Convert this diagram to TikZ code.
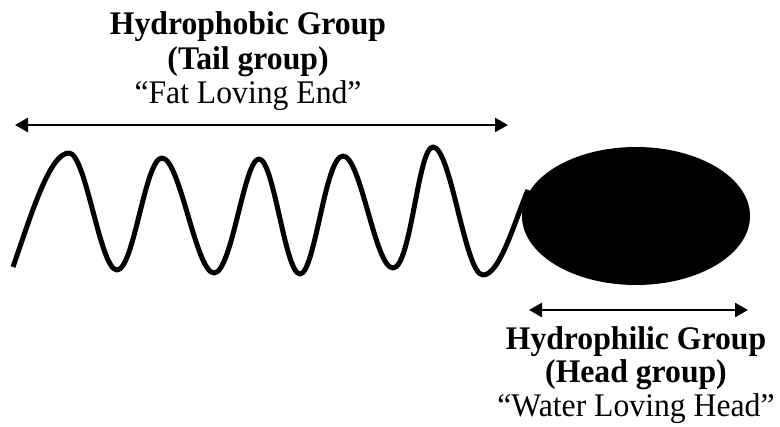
\documentclass[tikz,border=0pt]{standalone}
\usepackage{fontspec}
\setmainfont{Liberation Serif}
\usetikzlibrary{shapes.geometric,arrows.meta}
\newcommand{\squeezetxt}[1]{\scalebox{0.96}[1]{#1}}
\tikzset{
  lbl/.style={anchor=base, inner sep=0pt, font=\fontsize{33}{38}\selectfont},
  lblb/.style={lbl, font=\fontsize{33}{38}\selectfont\bfseries},
  dimarrow/.style={line width=2.5pt, {Triangle[length=13pt,width=14pt]}-{Triangle[length=13pt,width=14pt]}},
  wave/.style={line width=5pt, line cap=butt, line join=round},
  headshape/.style={ellipse, fill=black, draw=none, minimum width=228pt, minimum height=138pt, inner sep=0pt}
}
\begin{document}
\begin{tikzpicture}[x=1pt,y=-1pt]
\useasboundingbox (0,0) rectangle (780,427);
% tail labels
\node[lblb] (t1) at (248,35) {\squeezetxt{Hydrophobic Group}};
\node[lblb] (t2) at (248,70) {\squeezetxt{(Tail group)}};
\node[lbl]  (t3) at (248,104) {\squeezetxt{“Fat Loving End”}};
\coordinate (ta) at (15,125);
\coordinate (tb) at (508,125);
\draw[dimarrow] (ta) -- (tb);
% tail wave
\coordinate (w0) at (13,267);
\coordinate (p1) at (69,153);
\coordinate (v1) at (117,270);
\coordinate (p2) at (162,158);
\coordinate (v2) at (214,273);
\coordinate (p3) at (259,159);
\coordinate (v3) at (300,274);
\coordinate (p4) at (343,156);
\coordinate (v4) at (393,268);
\coordinate (p5) at (433,147);
\coordinate (v5) at (483,275);
\coordinate (w1) at (528,190);
\draw[wave] (w0) .. controls (32,212) and (50,153) .. (p1)
  .. controls (86,153) and (100,270) .. (v1)
  .. controls (134,270) and (145,158) .. (p2)
  .. controls (180,158) and (196,273) .. (v2)
  .. controls (232,273) and (244,159) .. (p3)
  .. controls (274,159) and (285,274) .. (v3)
  .. controls (315,274) and (325,156) .. (p4)
  .. controls (361,156) and (375,268) .. (v4)
  .. controls (411,268) and (418,147) .. (p5)
  .. controls (451,147) and (465,275) .. (v5)
  .. controls (500,275) and (515,220) .. (w1);
% head
\node[headshape] (head) at (636,216) {};
% head labels
\coordinate (ha) at (529,310);
\coordinate (hb) at (748,310);
\draw[dimarrow] (ha) -- (hb);
\node[lblb] (h1) at (636,350) {\squeezetxt{Hydrophilic Group}};
\node[lblb] (h2) at (636,383) {\squeezetxt{(Head group)}};
\node[lbl]  (h3) at (636,417) {\squeezetxt{“Water Loving Head”}};
\end{tikzpicture}
\end{document}
